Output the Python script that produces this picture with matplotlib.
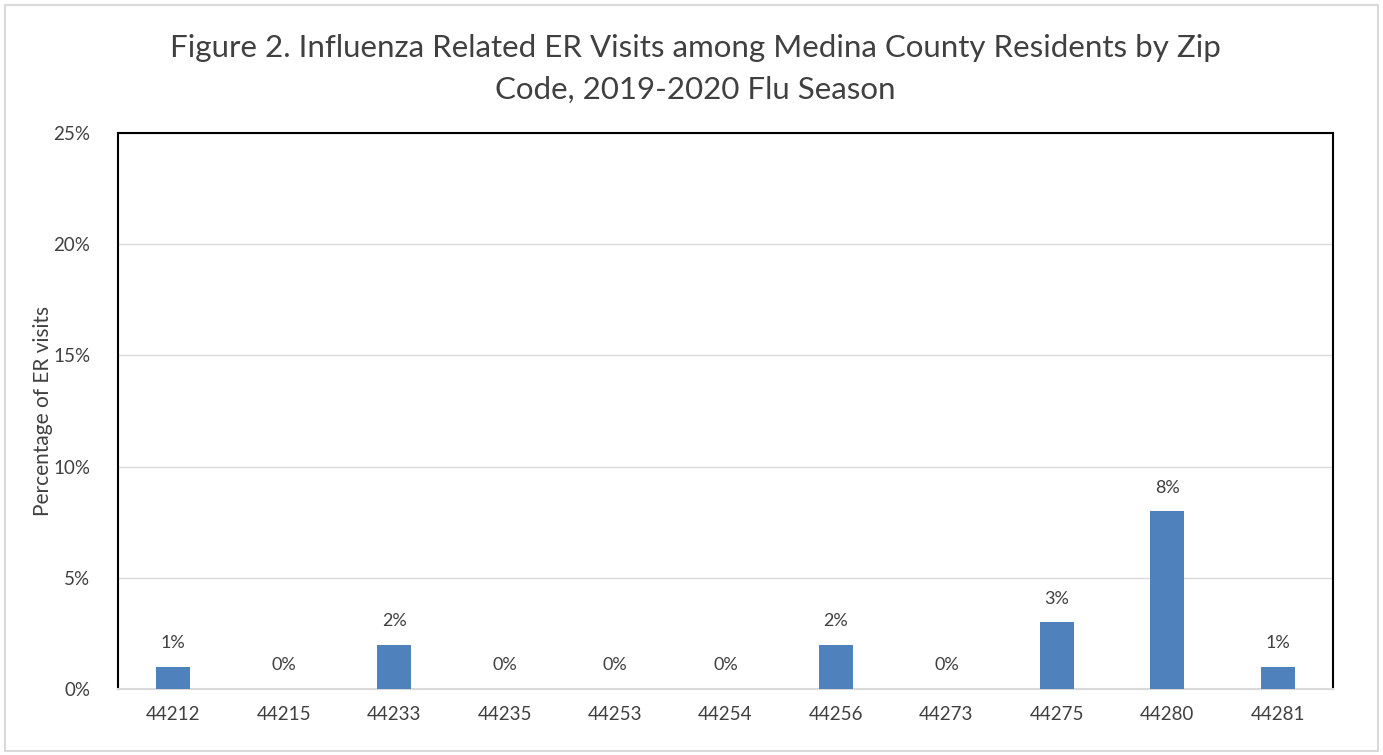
import matplotlib
matplotlib.use("Agg")
import matplotlib.pyplot as plt
from matplotlib.patches import Rectangle
from matplotlib.ticker import FuncFormatter

plt.rcParams['font.family'] = ['Lato', 'DejaVu Sans']

# 数据
zips = ['44212', '44215', '44233', '44235', '44253', '44254',
        '44256', '44273', '44275', '44280', '44281']
pct = [1, 0, 2, 0, 0, 0, 2, 0, 3, 8, 1]

fig = plt.figure(figsize=(13.83, 7.55), dpi=100)
ax = fig.add_axes([118/1383, 1-689/755, 1215/1383, 556/755])

# 外框
fig.patches.append(Rectangle((5/1383, 4/755), 1373/1383, 746/755, transform=fig.transFigure,
                             fill=False, edgecolor='#d9d9d9', linewidth=1.5))

x = range(len(zips))
ax.bar(x, pct, width=0.31, color='#4f81bd', zorder=3)
for i, v in zip(x, pct):
    ax.text(i, v + 0.7, '%d%%' % v, ha='center', va='bottom', fontsize=13, color='#404040')

ax.set_xlim(-0.5, len(zips) - 0.5)
ax.set_ylim(0, 25)
ax.set_yticks(range(0, 26, 5))
ax.yaxis.set_major_formatter(FuncFormatter(lambda v, p: '%d%%' % v))
ax.set_xticks(list(x))
ax.set_xticklabels(zips)
ax.tick_params(axis='both', length=0, labelsize=13.5, colors='#404040')
ax.tick_params(axis='x', pad=12)
ax.tick_params(axis='y', pad=20)
ax.grid(axis='y', color='#d9d9d9', linewidth=1, zorder=0)

for s in ['left', 'top', 'right']:
    ax.spines[s].set_color('#000000')
    ax.spines[s].set_linewidth(1.5)
ax.spines['bottom'].set_color('#d9d9d9')
ax.spines['bottom'].set_linewidth(1.5)

ax.set_ylabel('Percentage of ER visits', fontsize=15, color='#404040', labelpad=0)

fig.text(0.503, 0.909, 'Figure 2. Influenza Related ER Visits among Medina County Residents by Zip\nCode, 2019-2020 Flu Season',
         ha='center', va='center', fontsize=22.5, color='#404040', linespacing=1.58)

fig.savefig('out.png', dpi=100)
